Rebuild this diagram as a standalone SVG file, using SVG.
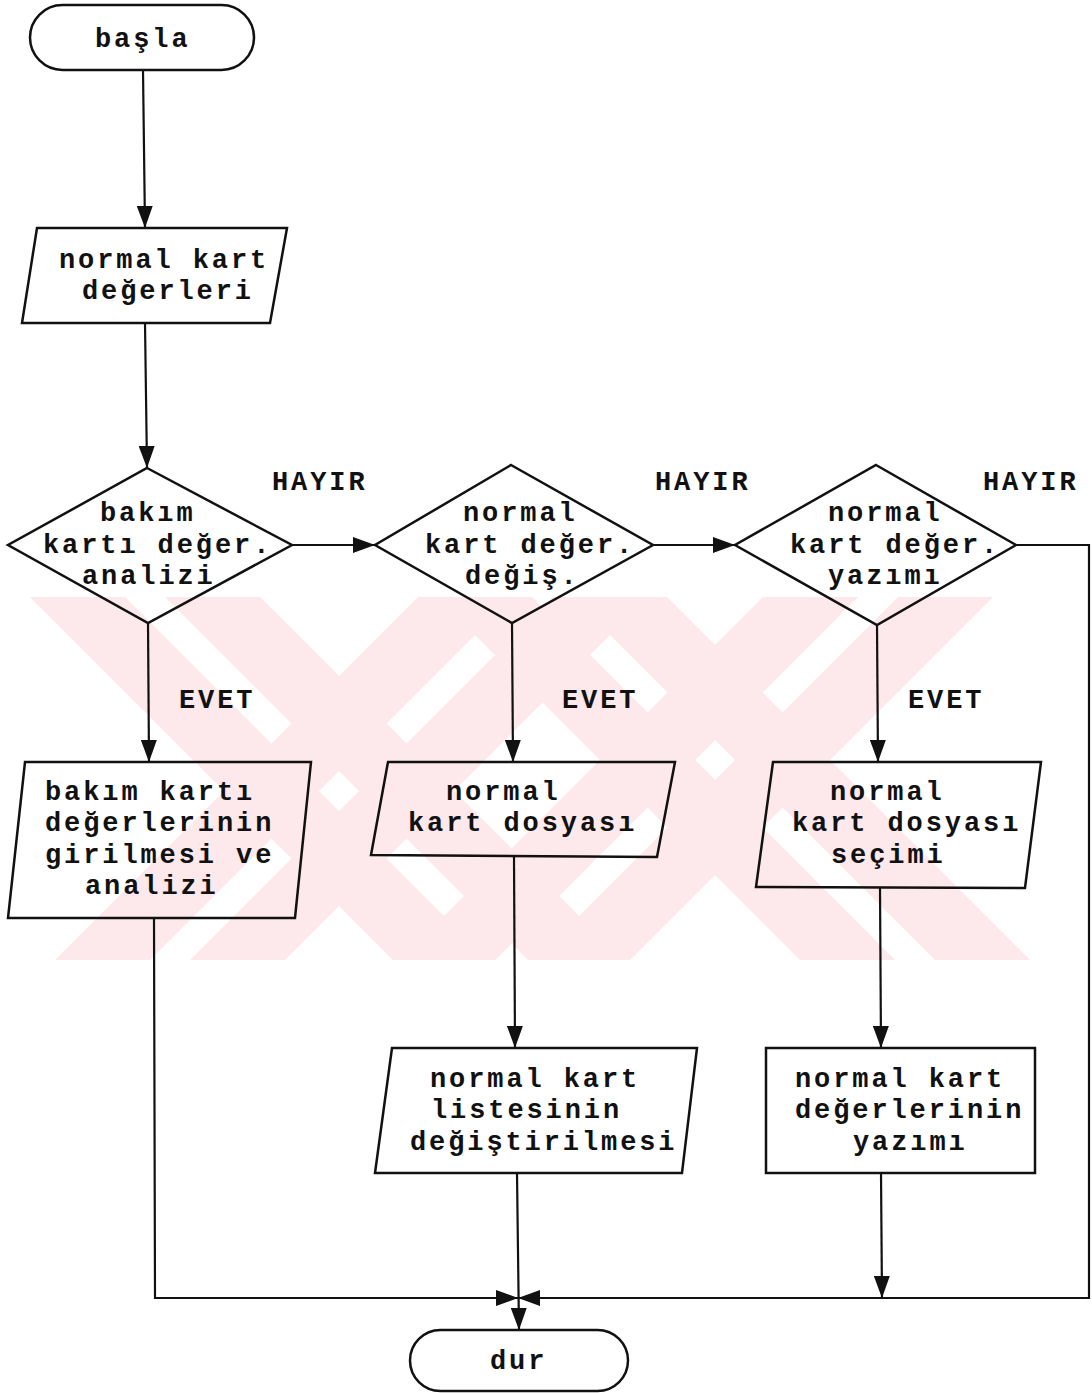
<svg xmlns="http://www.w3.org/2000/svg" width="1092" height="1393" viewBox="0 0 1092 1393">
<style>
.s{fill:none;stroke:#111;stroke-width:2.5;stroke-linejoin:miter}
.t{font-family:"Liberation Mono","Courier New",monospace;font-size:27px;font-weight:bold;letter-spacing:2.9px;fill:#111}
.c{fill:none;stroke:#111;stroke-width:2.2}
</style>
<defs>
<marker id="ah" markerUnits="userSpaceOnUse" markerWidth="22" markerHeight="16" refX="22" refY="8" orient="auto">
<path d="M0,0 L22,8 L0,16 z" fill="#111"/>
</marker>
</defs>
<rect width="1092" height="1393" fill="#fff"/>
<g id="watermark" fill="#fde9eb">
<path d="M30,597 L125,597 L488,960 L393,960 Z"/>
<path d="M165,597 L260,597 L623,960 L528,960 Z"/>
<path d="M418,597 L513,597 L150,960 L55,960 Z"/>
<path d="M553,597 L648,597 L285,960 L190,960 Z"/>
<path d="M437,597 L532,597 L895,960 L800,960 Z"/>
<path d="M572,597 L667,597 L1030,960 L935,960 Z"/>
<path d="M763,597 L858,597 L495,960 L400,960 Z"/>
<path d="M898,597 L993,597 L630,960 L535,960 Z"/>
</g>
<g id="connectors">
<line class="c" x1="143" y1="70" x2="145" y2="228" marker-end="url(#ah)"/>
<line class="c" x1="145" y1="323" x2="147" y2="468" marker-end="url(#ah)"/>
<line class="c" x1="292" y1="545" x2="375" y2="545" marker-end="url(#ah)"/>
<line class="c" x1="653" y1="545" x2="735" y2="545" marker-end="url(#ah)"/>
<line class="c" x1="148" y1="623" x2="149" y2="762" marker-end="url(#ah)"/>
<line class="c" x1="512" y1="623" x2="513" y2="762" marker-end="url(#ah)"/>
<line class="c" x1="877" y1="625" x2="878" y2="762" marker-end="url(#ah)"/>
<line class="c" x1="514" y1="857" x2="515" y2="1048" marker-end="url(#ah)"/>
<line class="c" x1="880" y1="888" x2="881" y2="1048" marker-end="url(#ah)"/>
<line class="c" x1="517" y1="1173" x2="519" y2="1330" marker-end="url(#ah)"/>
<line class="c" x1="881" y1="1173" x2="882" y2="1298" marker-end="url(#ah)"/>
<polyline class="c" points="154,918 155,1298 518,1298" marker-end="url(#ah)"/>
<polyline class="c" points="1016,545 1089,545 1089,1298 518,1298" marker-end="url(#ah)"/>
<text class="t" x="272" y="490">HAYIR</text>
<text class="t" x="655" y="490">HAYIR</text>
<text class="t" x="983" y="490">HAYIR</text>
<text class="t" x="179" y="708">EVET</text>
<text class="t" x="562" y="708">EVET</text>
<text class="t" x="908" y="708">EVET</text>
</g>
<g id="basla">
<rect class="s" x="30" y="5" width="224" height="65" rx="32.5"/>
<text class="t" x="95" y="47">başla</text>
</g>
<g id="normal-kart-degerleri">
<polygon class="s" points="37,228 287,228 270,323 22,323"/>
<text class="t" x="59" y="268">normal kart</text>
<text class="t" x="82" y="299">değerleri</text>
</g>
<g id="karar-bakim">
<polygon class="s" points="147,468 292,545 148,623 8,545"/>
<text class="t" x="100" y="521">bakım</text>
<text class="t" x="43" y="553">kartı değer.</text>
<text class="t" x="82" y="584">analizi</text>
</g>
<g id="karar-degis">
<polygon class="s" points="511,465 653,545 512,623 375,545"/>
<text class="t" x="463" y="521">normal</text>
<text class="t" x="425" y="553">kart değer.</text>
<text class="t" x="465" y="584">değiş.</text>
</g>
<g id="karar-yazim">
<polygon class="s" points="876,465 1016,545 877,625 735,545"/>
<text class="t" x="828" y="521">normal</text>
<text class="t" x="790" y="553">kart değer.</text>
<text class="t" x="828" y="584">yazımı</text>
</g>
<g id="bakim-girilmesi">
<polygon class="s" points="25,762 311,762 295,918 8,918"/>
<text class="t" x="45" y="800">bakım kartı</text>
<text class="t" x="45" y="831">değerlerinin</text>
<text class="t" x="45" y="863">girilmesi ve</text>
<text class="t" x="85" y="894">analizi</text>
</g>
<g id="normal-kart-dosyasi">
<polygon class="s" points="388,762 675,762 657,857 371,855"/>
<text class="t" x="446" y="800">normal</text>
<text class="t" x="408" y="831">kart dosyası</text>
</g>
<g id="dosya-secimi">
<polygon class="s" points="773,762 1041,762 1025,888 756,887"/>
<text class="t" x="830" y="800">normal</text>
<text class="t" x="792" y="831">kart dosyası</text>
<text class="t" x="831" y="863">seçimi</text>
</g>
<g id="liste-degistirilmesi">
<polygon class="s" points="392,1048 697,1048 682,1173 375,1173"/>
<text class="t" x="430" y="1087">normal kart</text>
<text class="t" x="431" y="1118">listesinin</text>
<text class="t" x="410" y="1150">değiştirilmesi</text>
</g>
<g id="degerler-yazimi">
<rect class="s" x="766" y="1048" width="269" height="125"/>
<text class="t" x="795" y="1087">normal kart</text>
<text class="t" x="795" y="1118">değerlerinin</text>
<text class="t" x="853" y="1150">yazımı</text>
</g>
<g id="dur">
<rect class="s" x="410" y="1330" width="218" height="61" rx="30.5"/>
<text class="t" x="490" y="1369">dur</text>
</g>
</svg>
